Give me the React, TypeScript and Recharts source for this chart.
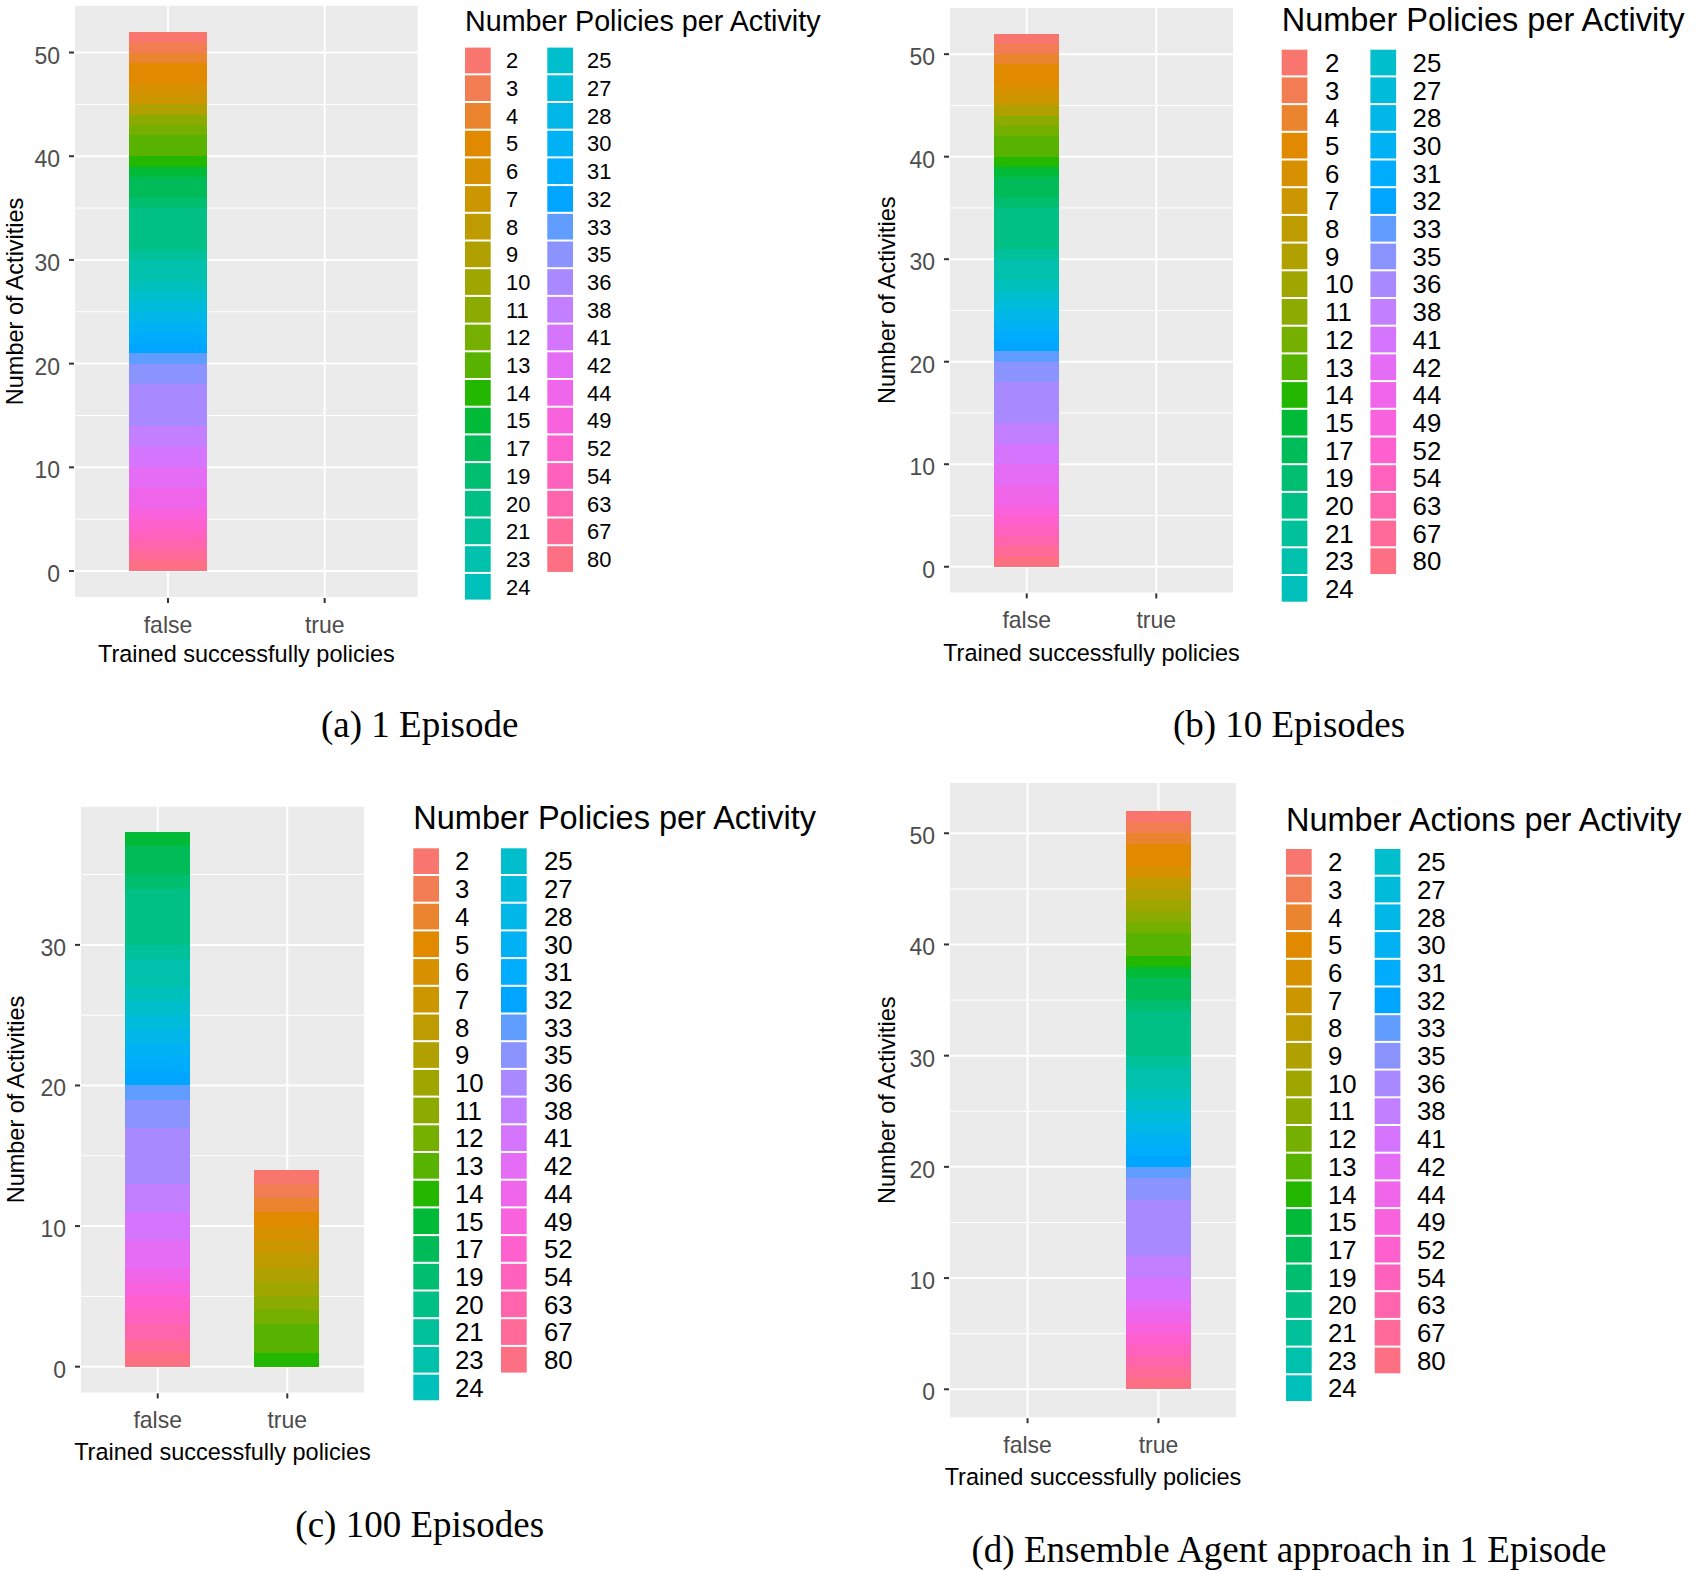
import React from 'react';
import { BarChart, Bar, XAxis, YAxis, CartesianGrid } from 'recharts';

// ---------- data ----------
const levels = [2, 3, 4, 5, 6, 7, 8, 9, 10, 11, 12, 13, 14, 15, 17, 19, 20, 21, 23, 24, 25, 27, 28, 30, 31, 32, 33, 35, 36, 38, 41, 42, 44, 49, 52, 54, 63, 67, 80];
const categories = ['false', 'true'];

// counts of activities per level (same order as `levels`)
const aFalse = [1, 1, 1, 2, 1, 1, 0, 1, 0, 1, 1, 2, 1, 1, 2, 1, 4, 1, 2, 1, 1, 1, 1, 1, 1, 1, 1, 2, 4, 2, 2, 2, 2, 1, 1, 1, 1, 1, 1];
const aTrue = [0, 0, 0, 0, 0, 0, 0, 0, 0, 0, 0, 0, 0, 0, 0, 0, 0, 0, 0, 0, 0, 0, 0, 0, 0, 0, 0, 0, 0, 0, 0, 0, 0, 0, 0, 0, 0, 0, 0];
const bFalse = [1, 1, 1, 2, 1, 1, 0, 1, 0, 1, 1, 2, 1, 1, 2, 1, 4, 1, 2, 1, 1, 1, 1, 1, 1, 1, 1, 2, 4, 2, 2, 2, 2, 1, 1, 1, 1, 1, 1];
const bTrue = [0, 0, 0, 0, 0, 0, 0, 0, 0, 0, 0, 0, 0, 0, 0, 0, 0, 0, 0, 0, 0, 0, 0, 0, 0, 0, 0, 0, 0, 0, 0, 0, 0, 0, 0, 0, 0, 0, 0];
const cFalse = [0, 0, 0, 0, 0, 0, 0, 0, 0, 0, 0, 0, 0, 1, 2, 1, 4, 1, 2, 1, 1, 1, 1, 1, 1, 1, 1, 2, 4, 2, 2, 2, 1, 1, 1, 1, 1, 1, 1];
const cTrue = [1, 1, 1, 1, 1, 1, 1, 1, 1, 1, 1, 2, 1, 0, 0, 0, 0, 0, 0, 0, 0, 0, 0, 0, 0, 0, 0, 0, 0, 0, 0, 0, 0, 0, 0, 0, 0, 0, 0];
const dFalse = [0, 0, 0, 0, 0, 0, 0, 0, 0, 0, 0, 0, 0, 0, 0, 0, 0, 0, 0, 0, 0, 0, 0, 0, 0, 0, 0, 0, 0, 0, 0, 0, 0, 0, 0, 0, 0, 0, 0];
const dTrue = [1, 1, 1, 2, 1, 0, 1, 1, 1, 1, 1, 2, 1, 1, 2, 1, 4, 1, 2, 1, 1, 1, 1, 1, 1, 1, 1, 2, 5, 2, 2, 1, 1, 1, 1, 1, 1, 1, 1];

const yTicks52 = [0, 10, 20, 30, 40, 50];
const yMinor52 = [5, 15, 25, 35, 45];
const yTicks38 = [0, 10, 20, 30];
const yMinor38 = [5, 15, 25, 35];

const xTitle = 'Trained successfully policies';
const yTitle = 'Number of Activities';
const legendPolicies = 'Number Policies per Activity';
const legendActions = 'Number Actions per Activity';
const captionA = '(a) 1 Episode';
const captionB = '(b) 10 Episodes';
const captionC = '(c) 100 Episodes';
const captionD = '(d) Ensemble Agent approach in 1 Episode';

// ---------- colours (ggplot2 hue palette) ----------
function hclHex(h: number, c = 100, l = 65): string {
  const hr = (h * Math.PI) / 180;
  const U = c * Math.cos(hr);
  const V = c * Math.sin(hr);
  const Xn = 95.047, Yn = 100, Zn = 108.883;
  const Y = l > 7.999592 ? Yn * Math.pow((l + 16) / 116, 3) : (Yn * l) / 903.3;
  const den = Xn + 15 * Yn + 3 * Zn;
  const un = (4 * Xn) / den;
  const vn = (9 * Yn) / den;
  const u = U / (13 * l) + un;
  const v = V / (13 * l) + vn;
  const X = (9 * Y * u) / (4 * v);
  const Z = -X / 3 - 5 * Y + (3 * Y) / v;
  const x = X / 100, y = Y / 100, z = Z / 100;
  const lin = [
    3.240479 * x - 1.53715 * y - 0.498535 * z,
    -0.969256 * x + 1.875992 * y + 0.041556 * z,
    0.055648 * x - 0.204043 * y + 1.057311 * z,
  ];
  const gam = (t: number) => (t > 0.00304 ? 1.055 * Math.pow(t, 1 / 2.4) - 0.055 : 12.92 * t);
  return (
    '#' +
    lin
      .map((t) => {
        const g = Math.round(Math.min(1, Math.max(0, gam(t))) * 255);
        return g.toString(16).padStart(2, '0');
      })
      .join('')
  );
}
const palette = levels.map((_, i) => hclHex(15 + (360 * i) / levels.length));

function buildRows(falseArr: number[], trueArr: number[]) {
  return categories.map((cat, ci) => {
    const row: Record<string, any> = { cat };
    levels.forEach((lv, i) => {
      row['v' + lv] = (ci === 0 ? falseArr : trueArr)[i];
    });
    return row;
  });
}

const SANS = '"Liberation Sans", Arial, Helvetica, sans-serif';
const SERIF = '"Liberation Serif", "Times New Roman", Times, serif';

type PanelCfg = {
  rows: any[];
  chartLeft: number;
  chartTop: number;
  px: number;
  py: number;
  pw: number;
  ph: number;
  domain: [number, number];
  ticks: number[];
  minor: number[];
  yTitleX: number;
  xTitleDy: number;
};

function Panel({ cfg }: { cfg: PanelCfg }) {
  const { rows, chartLeft, chartTop, px, py, pw, ph, domain, ticks, minor, yTitleX, xTitleDy } = cfg;
  const xAxisH = 90;
  const width = px + pw + 10 - chartLeft;
  const height = py + ph + xAxisH - chartTop;
  const unit = pw / 2.2;
  const pad = unit * 0.1;
  const barSize = unit * 0.5;
  const plotLeft = px - chartLeft;
  const plotTop = py - chartTop;
  const order = levels.map((lv, i) => ({ lv, i })).reverse();

  const XTick = (p: any) => (
    <text x={p.x} y={p.y + 30} textAnchor="middle" fill="#4D4D4D" fontSize={23} fontFamily={SANS}>
      {p.payload.value}
    </text>
  );
  const YTick = (p: any) => (
    <text x={p.x} y={p.y + 11} textAnchor="end" fill="#4D4D4D" fontSize={23} fontFamily={SANS}>
      {p.payload.value}
    </text>
  );

  return (
    <div style={{ position: 'absolute', left: chartLeft, top: chartTop }}>
      <BarChart
        width={width}
        height={height}
        data={rows}
        margin={{ top: plotTop, right: 10, bottom: 0, left: 0 }}
        barGap={0}
      >
        <CartesianGrid
          horizontalValues={minor}
          vertical={false}
          stroke="#FFFFFF"
          strokeWidth={1}
          fill="#EBEBEB"
          fillOpacity={1}
        />
        <CartesianGrid stroke="#FFFFFF" strokeWidth={2} />
        <XAxis
          dataKey="cat"
          type="category"
          interval={0}
          height={xAxisH}
          padding={{ left: pad, right: pad }}
          axisLine={false}
          tickLine={{ stroke: '#333333', strokeWidth: 2 }}
          tickSize={5}
          tickMargin={0}
          tick={XTick}
          label={{
            content: () => (
              <text
                x={plotLeft + pw / 2}
                y={plotTop + ph + xTitleDy + 8.5}
                textAnchor="middle"
                fill="#000000"
                fontSize={23.5}
                fontFamily={SANS}
              >
                {xTitle}
              </text>
            ),
          }}
        />
        <YAxis
          type="number"
          domain={domain}
          allowDataOverflow
          ticks={ticks}
          width={plotLeft}
          axisLine={false}
          tickLine={{ stroke: '#333333', strokeWidth: 2 }}
          tickSize={5}
          tickMargin={9}
          tick={YTick}
          label={{
            content: () => {
              const cx = yTitleX - chartLeft;
              const cy = plotTop + ph / 2;
              return (
                <text
                  x={cx}
                  y={cy}
                  dy={8}
                  transform={`rotate(-90, ${cx}, ${cy})`}
                  textAnchor="middle"
                  fill="#000000"
                  fontSize={23.5}
                  fontFamily={SANS}
                >
                  {yTitle}
                </text>
              );
            },
          }}
        />
        {order.map(({ lv, i }) => (
          <Bar
            key={lv}
            dataKey={'v' + lv}
            name={String(lv)}
            stackId="s"
            fill={palette[i]}
            barSize={barSize}
            shapeRendering="crispEdges"
            isAnimationActive={false}
          />
        ))}
      </BarChart>
    </div>
  );
}

type LegendCfg = {
  title: string;
  titleX: number;
  titleBase: number;
  titleSize: number;
  key1: number;
  key2: number;
  lab1: number;
  lab2: number;
  keyTop: number;
  labSize: number;
};

function LegendBlock({ c }: { c: LegendCfg }) {
  const keySize = 25.7;
  const step = 27.7;
  const col1 = levels.slice(0, 20);
  const col2 = levels.slice(20);
  return (
    <g>
      <text x={c.titleX} y={c.titleBase} fontSize={c.titleSize} fontFamily={SANS} fill="#000">
        {c.title}
      </text>
      {col1.map((lv, j) => (
        <g key={'a' + lv}>
          <rect x={c.key1} y={c.keyTop + j * step} width={keySize} height={keySize} fill={palette[j]} />
          <text
            x={c.lab1}
            y={c.keyTop + j * step + keySize / 2 + c.labSize * 0.36}
            fontSize={c.labSize}
            fontFamily={SANS}
            fill="#000"
          >
            {lv}
          </text>
        </g>
      ))}
      {col2.map((lv, j) => (
        <g key={'b' + lv}>
          <rect x={c.key2} y={c.keyTop + j * step} width={keySize} height={keySize} fill={palette[j + 20]} />
          <text
            x={c.lab2}
            y={c.keyTop + j * step + keySize / 2 + c.labSize * 0.36}
            fontSize={c.labSize}
            fontFamily={SANS}
            fill="#000"
          >
            {lv}
          </text>
        </g>
      ))}
    </g>
  );
}

const panels: PanelCfg[] = [
  { rows: buildRows(aFalse, aTrue), chartLeft: 0, chartTop: 0, px: 74, py: 4.8, pw: 344.7, ph: 593.2, domain: [-2.6, 54.6], ticks: yTicks52, minor: yMinor52, yTitleX: 15, xTitleDy: 56 },
  { rows: buildRows(bFalse, bTrue), chartLeft: 848, chartTop: 0, px: 949, py: 7.0, pw: 285, ph: 586.4, domain: [-2.6, 54.6], ticks: yTicks52, minor: yMinor52, yTitleX: 887, xTitleDy: 59.6 },
  { rows: buildRows(cFalse, cTrue), chartLeft: 0, chartTop: 780, px: 80, py: 805.7, pw: 285, ph: 587.7, domain: [-1.9, 39.9], ticks: yTicks38, minor: yMinor38, yTitleX: 16, xTitleDy: 58.3 },
  { rows: buildRows(dFalse, dTrue), chartLeft: 848, chartTop: 760, px: 949, py: 782.1, pw: 288, ph: 636.1, domain: [-2.6, 54.6], ticks: yTicks52, minor: yMinor52, yTitleX: 887, xTitleDy: 58.5 },
];

const legends: LegendCfg[] = [
  { title: legendPolicies, titleX: 465, titleBase: 30.8, titleSize: 28.7, key1: 465, key2: 547.3, lab1: 506, lab2: 587, keyTop: 47.6, labSize: 21.9 },
  { title: legendPolicies, titleX: 1281.7, titleBase: 31.2, titleSize: 32.5, key1: 1281.7, key2: 1370.4, lab1: 1325, lab2: 1412.6, keyTop: 49.7, labSize: 25.8 },
  { title: legendPolicies, titleX: 413.3, titleBase: 829.3, titleSize: 32.5, key1: 413.3, key2: 501, lab1: 455, lab2: 544, keyTop: 848.3, labSize: 25.8 },
  { title: legendActions, titleX: 1286, titleBase: 830.5, titleSize: 32.5, key1: 1286, key2: 1374.7, lab1: 1328, lab2: 1417, keyTop: 849, labSize: 25.8 },
];

const captions = [
  { text: captionA, x: 419.7, y: 737 },
  { text: captionB, x: 1289, y: 737 },
  { text: captionC, x: 419.7, y: 1537 },
  { text: captionD, x: 1289, y: 1562 },
];

export default function App() {
  return (
    <div style={{ position: 'absolute', left: 0, top: 0, width: 1696, height: 1571, background: '#FFFFFF', overflow: 'hidden' }}>
      <svg width={1696} height={1571} style={{ position: 'absolute', left: 0, top: 0 }}>
        {legends.map((l, i) => (
          <LegendBlock key={i} c={l} />
        ))}
        {captions.map((c, i) => (
          <text key={i} x={c.x} y={c.y} textAnchor="middle" fontSize={37} fontFamily={SERIF} fill="#000">
            {c.text}
          </text>
        ))}
      </svg>
      {panels.map((p, i) => (
        <Panel key={i} cfg={p} />
      ))}
    </div>
  );
}
